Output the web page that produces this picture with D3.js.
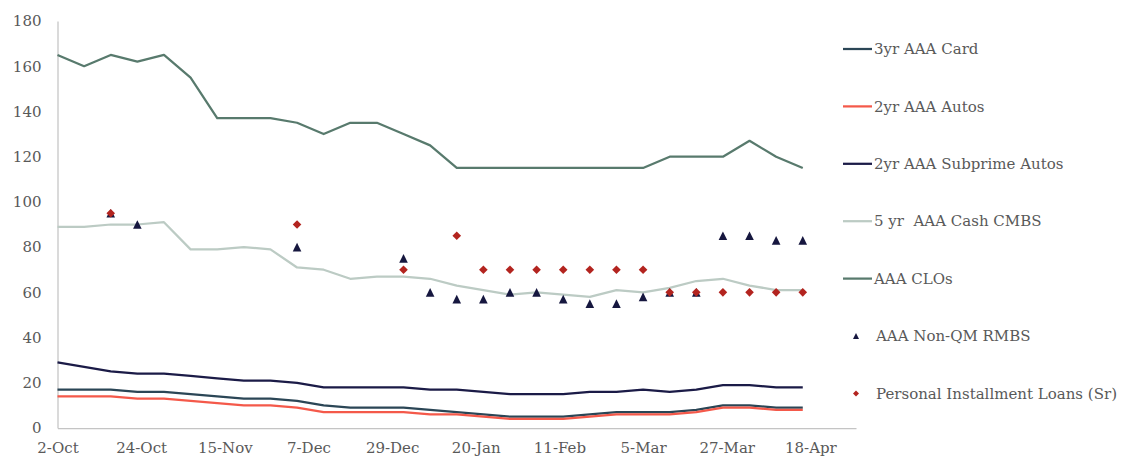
<!DOCTYPE html>
<html>
<head>
<meta charset="utf-8">
<script src="https://cdn.jsdelivr.net/npm/d3@7"></script>
<style>
  html, body { margin: 0; padding: 0; background: #ffffff; }
  svg { display: block; }
  text { font-family: "DejaVu Serif", "Liberation Serif", serif; fill: #595959; }
</style>
</head>
<body>
<svg id="chart" width="1123" height="459"></svg>
<script>
// Weekly observation dates
const weeks = [
  "2022-10-02", "2022-10-09", "2022-10-16", "2022-10-23", "2022-10-30",
  "2022-11-06", "2022-11-13", "2022-11-20", "2022-11-27",
  "2022-12-04", "2022-12-11", "2022-12-18", "2022-12-25",
  "2023-01-01", "2023-01-08", "2023-01-15", "2023-01-22", "2023-01-29",
  "2023-02-05", "2023-02-12", "2023-02-19", "2023-02-26",
  "2023-03-05", "2023-03-12", "2023-03-19", "2023-03-26",
  "2023-04-02", "2023-04-09", "2023-04-16"
];

// Spread series (bps)
const card3yr      = [17,17,17,16,16,15,14,13,13,12,10,9,9,9,8,7,6,5,5,5,6,7,7,7,8,10,10,9,9];
const autos2yr     = [14,14,14,13,13,12,11,10,10,9,7,7,7,7,6,6,5,4,4,4,5,6,6,6,7,9,9,8,8];
const subprime2yr  = [29,27,25,24,24,23,22,21,21,20,18,18,18,18,17,17,16,15,15,15,16,16,17,16,17,19,19,18,18];
const cmbs5yr      = [89,89,90,90,91,79,79,80,79,71,70,66,67,67,66,63,61,59,60,59,58,61,60,62,65,66,63,61,61];
const clo          = [165,160,165,162,165,155,137,137,137,135,130,135,135,130,125,115,115,115,115,115,115,115,115,120,120,120,127,120,115];
const nonQmRmbs    = [null,null,95,90,null,null,null,null,null,80,null,null,null,75,60,57,57,60,60,57,55,55,58,60,60,85,85,83,83];
const personalLoans= [null,null,95,null,null,null,null,null,null,90,null,null,null,70,null,85,70,70,70,70,70,70,70,60,60,60,60,60,60];

// Axis ticks
const xTickLabels = ["2022-10-02", "2022-10-24", "2022-11-15", "2022-12-07", "2022-12-29",
                     "2023-01-20", "2023-02-11", "2023-03-05", "2023-03-27", "2023-04-18"];
const yTicks = [0, 20, 40, 60, 80, 100, 120, 140, 160, 180];

const parse = d3.timeParse("%Y-%m-%d");
const dates = weeks.map(parse);

const lineSeries = [
  { name: "3yr AAA Card",            values: card3yr,     color: "#2b4656", width: 2.25 },
  { name: "2yr AAA Autos",           values: autos2yr,    color: "#f4594a", width: 2.25 },
  { name: "2yr AAA Subprime Autos",  values: subprime2yr, color: "#1b1b47", width: 2.25 },
  { name: "5 yr  AAA Cash CMBS",     values: cmbs5yr,     color: "#bccbc4", width: 2.25 },
  { name: "AAA CLOs",                values: clo,         color: "#587a6d", width: 2.25 }
];
const markerSeries = [
  { name: "AAA Non-QM RMBS",                 values: nonQmRmbs,     color: "#16173f", shape: "triangle" },
  { name: "Personal Installment Loans (Sr)", values: personalLoans, color: "#b3241f", shape: "diamond" }
];

const svg = d3.select("#chart");

const x = d3.scaleTime()
  .domain([parse("2022-10-02"), parse("2023-04-30")])
  .range([57.5, 856]);
const y = d3.scaleLinear().domain([0, 180]).range([428, 21]);

// Marker outlines centred on the data point
function markerPath(shape, s) {
  const h = s / 2;
  if (shape === "triangle") return `M0,${-h}L${h},${h}L${-h},${h}Z`;
  return `M0,${-h}L${h},0L0,${h}L${-h},0Z`;
}

// Axes
const yAxis = svg.append("g")
  .attr("transform", `translate(${x.range()[0]},0)`)
  .call(d3.axisLeft(y).tickValues(yTicks).tickSize(0).tickSizeOuter(0).tickPadding(16));
const xAxis = svg.append("g")
  .attr("transform", `translate(0,${y(0)})`)
  .call(d3.axisBottom(x).tickValues(xTickLabels.map(parse))
    .tickFormat(d3.timeFormat("%-d-%b")).tickSize(0).tickSizeOuter(0).tickPadding(14));

[yAxis, xAxis].forEach(g => {
  g.select(".domain").attr("stroke", "#c4c4c4").attr("stroke-width", 1.25);
  g.selectAll("text").style("font-size", "15px").attr("fill", "#595959")
    .style("font-family", "'DejaVu Serif', 'Liberation Serif', serif");
});

// Lines
const line = d3.line()
  .x((d, i) => x(dates[i]))
  .y(d => y(d));

svg.append("g").selectAll("path")
  .data(lineSeries)
  .join("path")
  .attr("d", s => line(s.values))
  .attr("fill", "none")
  .attr("stroke", s => s.color)
  .attr("stroke-width", s => s.width)
  .attr("stroke-linejoin", "round")
  .attr("stroke-linecap", "butt");

// Point markers
markerSeries.forEach(s => {
  svg.append("g").selectAll("path")
    .data(s.values.map((v, i) => ({ v, d: dates[i] })).filter(p => p.v !== null))
    .join("path")
    .attr("transform", p => `translate(${x(p.d)},${y(p.v)})`)
    .attr("d", markerPath(s.shape, 8.6))
    .attr("fill", s.color);
});

// Legend
const legendItems = lineSeries.map(s => ({ ...s, kind: "line" }))
  .concat(markerSeries.map(s => ({ ...s, kind: "marker" })));
const legend = svg.append("g").attr("transform", "translate(843,49)");
const rowStep = 57.4;

const rows = legend.selectAll("g")
  .data(legendItems)
  .join("g")
  .attr("transform", (d, i) => `translate(0,${i * rowStep})`);

rows.filter(d => d.kind === "line").append("line")
  .attr("x1", 0).attr("x2", 29).attr("y1", 0).attr("y2", 0)
  .attr("stroke", d => d.color).attr("stroke-width", 2.25);

rows.filter(d => d.kind === "marker").append("path")
  .attr("transform", "translate(13,0)")
  .attr("d", d => markerPath(d.shape, 6))
  .attr("fill", d => d.color);

rows.append("text")
  .attr("x", d => d.kind === "line" ? 31 : 33)
  .attr("y", 0)
  .attr("dy", "0.35em")
  .style("font-size", "15px")
  .style("white-space", "pre")
  .attr("xml:space", "preserve")
  .text(d => d.name);
</script>
</body>
</html>
